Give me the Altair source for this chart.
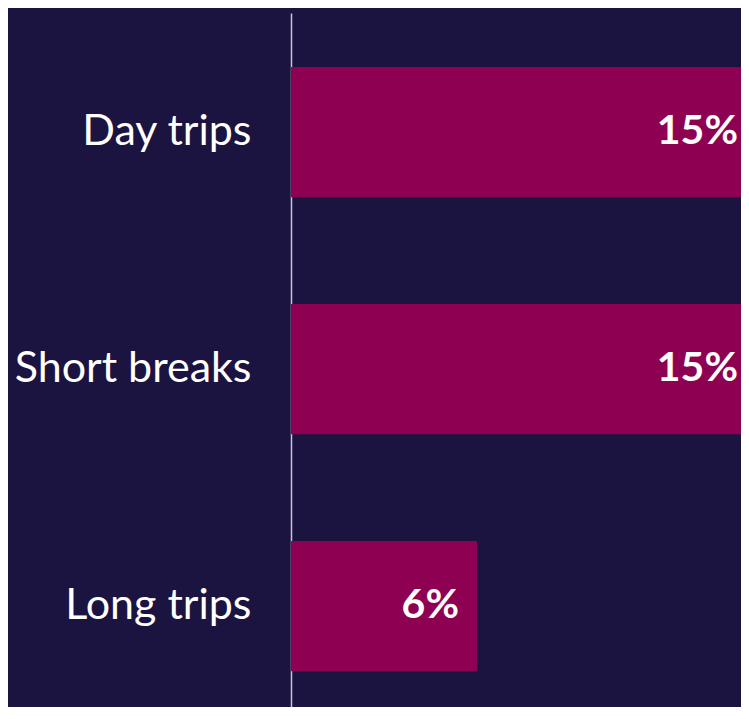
import altair as alt
import pandas as pd

categories = ["Day trips", "Short breaks", "Long trips"]
values = [15, 15, 6]
labels = ["15%", "15%", "6%"]

df = pd.DataFrame({"category": categories, "value": values, "label": labels})

BG = "#1b1340"
BAR = "#8e0152"

y_scale = alt.Scale(paddingInner=0.45, paddingOuter=0.1892, align=0.6023)

y_enc = alt.Y(
    "category:N",
    sort=categories,
    scale=y_scale,
    axis=alt.Axis(
        title=None,
        ticks=False,
        labelPadding=40,
        labelLimit=0,
        labelFont="Lato",
        labelFontSize=43,
        labelColor="white",
        domainColor="#c9c6d6",
        domainWidth=1.5,
        grid=False,
    ),
)
x_enc = alt.X(
    "value:Q",
    scale=alt.Scale(domain=[0, 14.516], nice=False, zero=True),
    axis=None,
)

bars = alt.Chart(df).mark_bar(color=BAR).encode(y=y_enc, x=x_enc)
text = alt.Chart(df).mark_text(
    align="right",
    baseline="middle",
    dx=-18,
    font="Lato",
    fontSize=41,
    fontWeight="bold",
    color="white",
).encode(y=alt.Y("category:N", sort=categories), x=alt.X("value:Q"), text="label:N")

chart = (
    alt.layer(bars, text)
    .properties(
        width=450,
        height=694,
        background=BG,
        padding={"left": 283, "top": 5, "right": 0, "bottom": 0},
        autosize=alt.AutoSizeParams(type="none"),
    )
    .configure_view(strokeWidth=0, fill=BG)
)

chart.save("out.html", embed_options={"renderer": "svg", "actions": False})
